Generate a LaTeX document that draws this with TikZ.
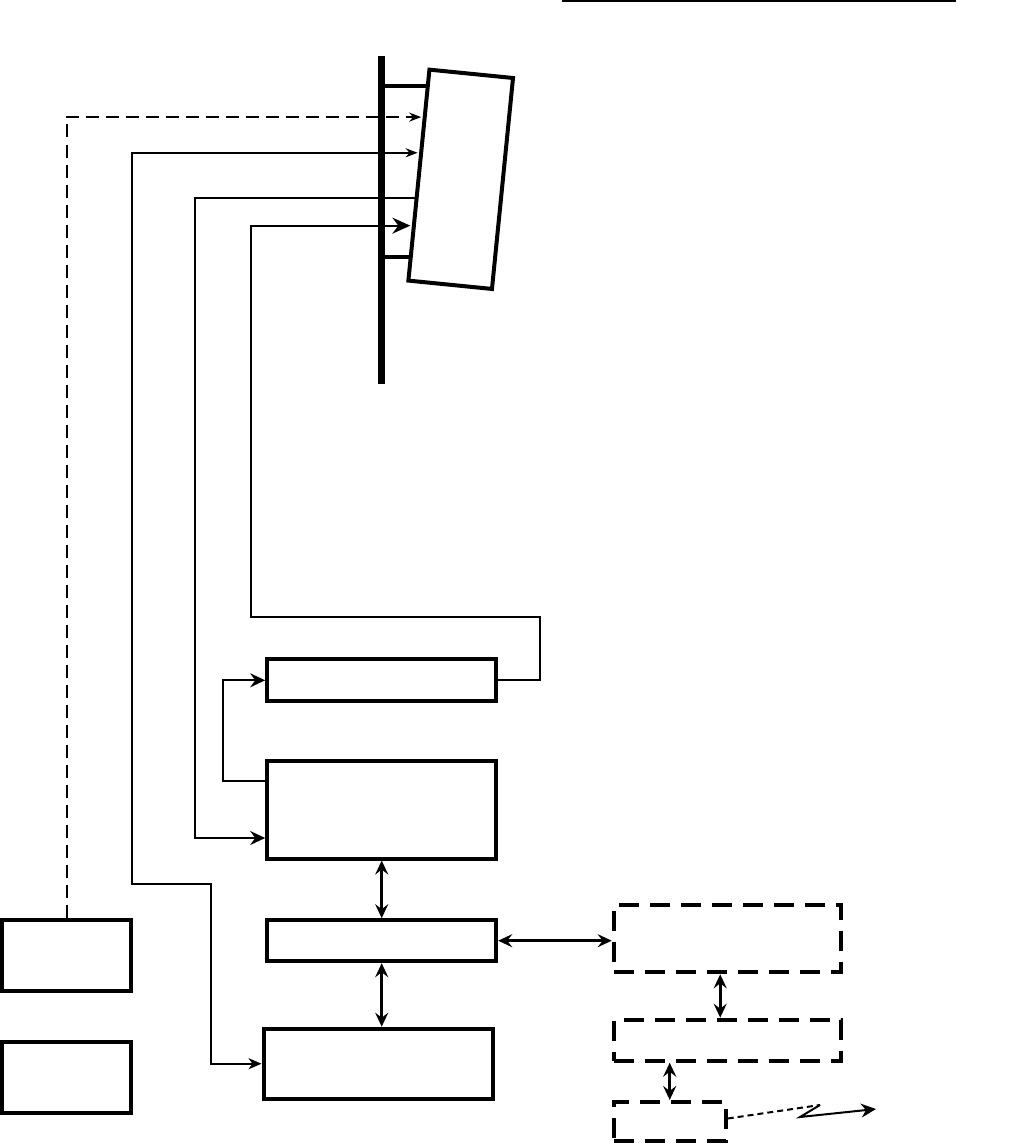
\documentclass[tikz,border=0pt]{standalone}
\usetikzlibrary{arrows.meta,calc}
\begin{document}
\begin{tikzpicture}[x=1pt,y=-1pt,>={Stealth[length=15pt,width=14pt,inset=5pt]},
  box/.style={draw,line width=4pt,inner sep=0pt},
  dbox/.style={box,dash pattern=on 20pt off 11pt},
  wire/.style={line width=2pt},
  dwire/.style={wire,dash pattern=on 13pt off 7pt},
  link/.style={line width=2.8pt,{Stealth[length=14pt,width=13pt,inset=5pt]}-{Stealth[length=14pt,width=13pt,inset=5pt]}},
  small/.style={-{Stealth[length=12pt,width=9pt,inset=4pt]}},
  large/.style={-{Stealth[length=18pt,width=16pt,inset=6pt]}}]
\useasboundingbox (0,0) rectangle (1015,1145);
\draw[line width=2pt] (562,1) -- (956,1);
\coordinate (poletop) at (381,56);
\coordinate (polebot) at (381,384);
\draw (460.7,179.3) node[box,rotate=-5.7,minimum width=84pt,minimum height=212pt](panel) {};
\draw (66.5,955) node[box,minimum width=129pt,minimum height=71pt](auxa) {};
\draw (66.5,1077.5) node[box,minimum width=129pt,minimum height=71pt](auxb) {};
\draw (381.7,680.3) node[box,minimum width=229pt,minimum height=42pt](filt) {};
\draw (381.7,809.5) node[box,minimum width=229pt,minimum height=98pt](main) {};
\draw (381.7,940.7) node[box,minimum width=229pt,minimum height=41pt](iface) {};
\draw (378,1063.7) node[box,minimum width=229pt,minimum height=70pt](ctrl) {};
\draw (727.2,938.8) node[dbox,minimum width=227pt,minimum height=67pt](remA) {};
\draw (727.2,1040.2) node[dbox,minimum width=227pt,minimum height=41pt](remB) {};
\draw (669.7,1121.5) node[dbox,minimum width=112pt,minimum height=39pt](term) {};
\coordinate (b1) at ($(panel.north west)!0.086!(panel.south west)$);
\coordinate (b2) at ($(panel.north west)!0.882!(panel.south west)$);
\coordinate (p1) at ($(panel.north west)!0.231!(panel.south west)$);
\coordinate (p2) at ($(panel.north west)!0.397!(panel.south west)$);
\coordinate (p3) at ($(panel.north west)!0.607!(panel.south west)$);
\coordinate (p4) at ($(panel.north west)!0.736!(panel.south west)$);
\coordinate (in4) at ([yshift=-28.5pt]main.west);
\coordinate (out4) at ([yshift=28.5pt]main.west);
\coordinate (zig) at (820,1105);
\coordinate (kink) at (800,1117);
\coordinate (tip) at (876,1109);
\draw[line width=7pt] (poletop) -- (polebot);
\draw[line width=4pt] (poletop |- b1) -- (b1);
\draw[line width=4pt] (poletop |- b2) -- (b2);
\draw[dwire,small,shorten >=1.5pt] (auxa.north) |- (p1);
\draw[wire,shorten >=1.5pt,{Stealth[length=13pt,width=11pt,inset=4pt]}-{Stealth[length=12pt,width=9pt,inset=4pt]}] (ctrl.west) -- (211,0 |- ctrl.west) |- (132,884) |- (p2);
\draw[wire,->] (p3) -| (195,0 |- in4) -- (in4);
\draw[wire,large,shorten >=1.5pt] (filt.east) -| (540,617) -| (251,0 |- p4) -- (p4);
\draw[wire,->] (out4) -| (223,0 |- filt.west) -- (filt.west);
\draw[link] (main.south) -- (main.south |- iface.north);
\draw[link] (iface.south) -- (iface.south |- ctrl.north);
\draw[link] (iface.east) -- (iface.east -| remA.west);
\draw[link] ([xshift=-7pt]remA.south) -- ([xshift=-7pt]remB.north);
\draw[link] (term.north) -- (term.north |- remB.south);
\draw[wire,dash pattern=on 6pt off 4pt] ([yshift=3pt]term.east) -- (zig);
\draw[wire,->] (zig) -- (kink) -- (tip);
\end{tikzpicture}
\end{document}
